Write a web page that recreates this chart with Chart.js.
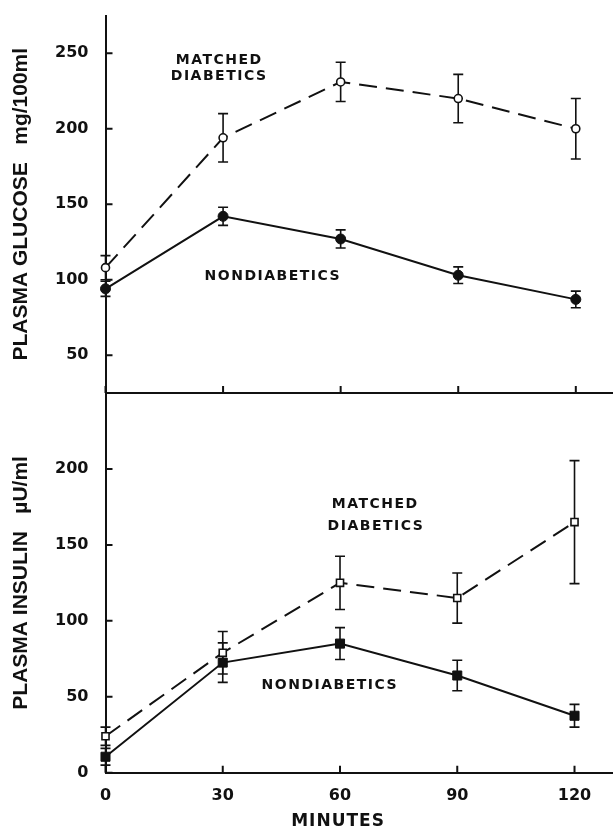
<!DOCTYPE html>
<html>
<head>
<meta charset="utf-8">
<script src="https://cdn.jsdelivr.net/npm/chart.js@4/dist/chart.umd.min.js"></script>
<style>
  body { margin: 0; background: #fff; }
  #wrap { position: relative; width: 613px; height: 832px; overflow: hidden; }
  canvas { position: absolute; left: 0; }
  #glucoseChart { top: 0; }
  #insulinChart { top: 380px; }
</style>
</head>
<body>
<div id="wrap">
  <canvas id="glucoseChart" width="621" height="400"></canvas>
  <canvas id="insulinChart" width="621" height="452"></canvas>
</div>
<script>
const minutes = [0, 30, 60, 90, 120];

const glucoseDiabetic = [108, 194, 231, 220, 200];
const glucoseDiabeticSem = [8, 16, 13, 16, 20];
const glucoseNormal = [94, 142, 127, 103, 87];
const glucoseNormalSem = [5, 6, 6, 5.5, 5.5];

const insulinDiabetic = [24, 79, 125, 115, 165];
const insulinDiabeticSem = [6, 14, 17.5, 16.5, 40.5];
const insulinNormal = [10.5, 72.5, 85, 64, 37.5];
const insulinNormalSem = [5.5, 13, 10.5, 10, 7.5];

const minuteTicks = [0, 30, 60, 90, 120];
const glucoseTicks = [50, 100, 150, 200, 250];
const insulinTicks = [0, 50, 100, 150, 200];

const INK = '#111';

function points(vals) {
  return minutes.map((m, i) => ({ x: m, y: vals[i] }));
}

// error bars under the markers, inward tick marks and the text labels on top
const marksPlugin = {
  id: 'marks',
  beforeDatasetsDraw(chart) {
    const ctx = chart.ctx, xs = chart.scales.x, ys = chart.scales.y;
    ctx.save();
    ctx.strokeStyle = INK;
    ctx.lineWidth = 1.6;
    chart.data.datasets.forEach(ds => {
      ds.data.forEach((p, i) => {
        const e = ds.sem[i];
        const px = xs.getPixelForValue(p.x);
        const top = ys.getPixelForValue(p.y + e);
        const bot = ys.getPixelForValue(p.y - e);
        ctx.beginPath();
        ctx.moveTo(px, top); ctx.lineTo(px, bot);
        ctx.moveTo(px - 5, top); ctx.lineTo(px + 5, top);
        ctx.moveTo(px - 5, bot); ctx.lineTo(px + 5, bot);
        ctx.stroke();
      });
    });
    ctx.restore();
  },
  afterDraw(chart, args, opts) {
    const ctx = chart.ctx, xs = chart.scales.x, ys = chart.scales.y;
    const area = chart.chartArea;
    ctx.save();
    ctx.strokeStyle = INK;
    ctx.lineWidth = 2;
    ctx.beginPath();
    ys.ticks.forEach(t => {
      const py = ys.getPixelForValue(t.value);
      ctx.moveTo(area.left, py); ctx.lineTo(area.left + 7, py);
    });
    xs.ticks.forEach(t => {
      const px = xs.getPixelForValue(t.value);
      ctx.moveTo(px, area.bottom); ctx.lineTo(px, area.bottom - 7);
    });
    ctx.stroke();

    ctx.fillStyle = INK;
    ctx.textAlign = 'center';
    ctx.textBaseline = 'middle';
    (opts.notes || []).forEach(n => {
      ctx.font = n.font || 'bold 14px "DejaVu Sans"';
      ctx.letterSpacing = n.spacing || '1.5px';
      const px = xs.getPixelForValue(n.x);
      const py = n.below ? area.bottom + n.below : ys.getPixelForValue(n.y);
      ctx.fillText(n.text, px, py);
    });
    ctx.restore();
  }
};

function makeChart(id, cfg) {
  return new Chart(document.getElementById(id), {
    type: 'line',
    data: {
      datasets: [
        {
          data: points(cfg.diabetic),
          sem: cfg.diabeticSem,
          borderColor: INK,
          borderWidth: 2,
          borderDash: [18, 9],
          pointStyle: cfg.shape,
          pointRadius: cfg.openRadius,
          pointBackgroundColor: '#fff',
          pointBorderColor: INK,
          pointBorderWidth: 1.6,
          clip: false
        },
        {
          data: points(cfg.normal),
          sem: cfg.normalSem,
          borderColor: INK,
          borderWidth: 2,
          pointStyle: cfg.shape,
          pointRadius: cfg.filledRadius,
          pointBackgroundColor: INK,
          pointBorderColor: INK,
          pointBorderWidth: 1,
          clip: false
        }
      ]
    },
    options: {
      responsive: false,
      animation: false,
      devicePixelRatio: 1,
      layout: { padding: cfg.padding },
      plugins: {
        legend: { display: false },
        tooltip: { enabled: false },
        marks: { notes: cfg.notes }
      },
      scales: {
        x: {
          type: 'linear',
          min: 0,
          max: 130,
          afterBuildTicks: s => { s.ticks = minuteTicks.map(v => ({ value: v })); },
          afterFit: s => { s.height = cfg.xHeight; s.paddingLeft = 0; s.paddingRight = 0; },
          grid: { display: false },
          border: { display: true, color: INK, width: 2 },
          ticks: {
            display: cfg.showMinutes,
            color: INK,
            padding: 6,
            maxRotation: 0,
            autoSkip: false,
            font: { family: 'DejaVu Sans', weight: 'bold', size: 16 }
          }
        },
        y: {
          min: cfg.yMin,
          max: cfg.yMax,
          afterBuildTicks: s => { s.ticks = cfg.yTicks.map(v => ({ value: v })); },
          afterFit: s => { s.width = 105.5; s.paddingTop = 0; s.paddingBottom = 0; },
          grid: { display: false },
          border: { display: true, color: INK, width: 2 },
          ticks: {
            color: INK,
            padding: 9,
            font: { family: 'DejaVu Sans', weight: 'bold', size: 16 }
          },
          title: {
            display: true,
            text: cfg.title,
            color: INK,
            padding: { top: 9, bottom: 0 },
            font: { family: 'Liberation Sans', weight: 'bold', size: 21 }
          }
        }
      }
    },
    plugins: [marksPlugin]
  });
}

makeChart('glucoseChart', {
  diabetic: glucoseDiabetic, diabeticSem: glucoseDiabeticSem,
  normal: glucoseNormal, normalSem: glucoseNormalSem,
  shape: 'circle', openRadius: 4, filledRadius: 5,
  yMin: 25, yMax: 275, yTicks: glucoseTicks,
  title: 'PLASMA GLUCOSE   mg/100ml',
  padding: { top: 15.5, bottom: 7, left: 0, right: 0 },
  xHeight: 0,
  showMinutes: false,
  notes: [
    { text: 'MATCHED', x: 29, y: 245 },
    { text: 'DIABETICS', x: 29, y: 234.5 },
    { text: 'NONDIABETICS', x: 42.7, y: 102 }
  ]
});

makeChart('insulinChart', {
  diabetic: insulinDiabetic, diabeticSem: insulinDiabeticSem,
  normal: insulinNormal, normalSem: insulinNormalSem,
  shape: 'rect', openRadius: 5, filledRadius: 6.4,
  yMin: 0, yMax: 250, yTicks: insulinTicks,
  title: 'PLASMA INSULIN   \u00b5U/ml',
  padding: { top: 13, bottom: 0, left: 0, right: 0 },
  xHeight: 59.3,
  showMinutes: true,
  notes: [
    { text: 'MATCHED', x: 69, y: 177 },
    { text: 'DIABETICS', x: 69.2, y: 162 },
    { text: 'NONDIABETICS', x: 57.4, y: 57.8 },
    { text: 'MINUTES', x: 59.5, below: 49, font: 'bold 17px "DejaVu Sans"', spacing: '1px' }
  ]
});
</script>
</body>
</html>
